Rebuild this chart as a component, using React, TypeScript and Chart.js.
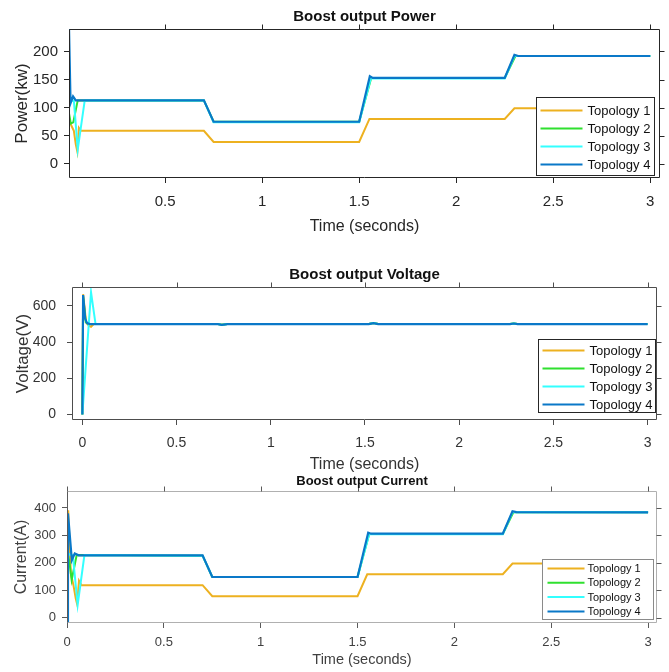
import React, { useEffect, useRef } from "react";
import { Chart, registerables } from "chart.js";

Chart.register(...registerables);

type Pt = [number, number];

// ---------------- DATA ----------------
const seriesLabels = ["Topology 1", "Topology 2", "Topology 3", "Topology 4"];
const seriesColors = ["#EDB120", "#2FE02F", "#33FFFF", "#0A78C8"];

const timeTicks = [0, 0.5, 1, 1.5, 2, 2.5, 3];
const powerTicks = [0, 50, 100, 150, 200];
const voltageTicks = [0, 200, 400, 600];
const currentTicks = [0, 100, 200, 300, 400];

// Power (kW) vs time (s)
const powerTopology1: Pt[] = [
  [0, -30], [0.004, 75], [0.012, 72], [0.03, 59], [0.04, 35], [0.048, 22],
  [0.056, 64], [0.066, 59], [0.7, 59], [0.75, 39], [1.5, 39], [1.553, 80],
  [2.25, 80], [2.3, 99], [3, 99],
];
const powerTopology2: Pt[] = [
  [0, -30], [0.004, 92], [0.014, 72], [0.027, 74], [0.05, 113], [0.7, 113],
  [0.75, 75], [1.5, 75], [1.562, 153], [2.25, 153], [2.305, 192], [3, 192],
];
const powerTopology3: Pt[] = [
  [0, -30], [0.006, 110], [0.03, 113], [0.05, 26], [0.086, 113], [0.7, 113],
  [0.75, 74], [1.5, 74], [1.56, 152], [2.25, 152], [2.3, 192], [3, 192],
];
const powerTopology4: Pt[] = [
  [0, -30], [0.004, 260], [0.013, 108], [0.026, 120], [0.04, 113], [0.7, 113],
  [0.75, 75], [1.5, 75], [1.555, 156], [1.57, 153], [2.25, 153], [2.3, 194],
  [2.32, 192], [3, 192],
];

// Voltage (V) vs time (s)
const voltageTopology1: Pt[] = [
  [0, 0], [0.004, 665], [0.02, 510], [0.035, 490], [0.046, 485], [0.06, 500],
  [0.72, 500], [0.74, 496], [0.77, 500], [1.52, 500], [1.545, 505], [1.57, 500],
  [2.27, 500], [2.29, 503], [2.31, 500], [3, 500],
];
const voltageTopology2: Pt[] = [
  [0, 0], [0.004, 655], [0.018, 510], [0.03, 500], [0.72, 500], [0.74, 496],
  [0.77, 500], [1.52, 500], [1.545, 505], [1.57, 500], [2.27, 500], [2.29, 503],
  [2.31, 500], [3, 500],
];
const voltageTopology3: Pt[] = [
  [0, 0], [0.046, 676], [0.07, 500], [0.72, 500], [0.74, 495], [0.77, 500],
  [1.52, 500], [1.545, 506], [1.57, 500], [2.27, 500], [2.29, 503], [2.31, 500],
  [3, 500],
];
const voltageTopology4: Pt[] = [
  [0, 0], [0.004, 660], [0.015, 530], [0.025, 505], [0.04, 500], [0.72, 500],
  [0.74, 496], [0.77, 500], [1.52, 500], [1.545, 505], [1.57, 500], [2.27, 500],
  [2.29, 503], [2.31, 500], [3, 500],
];

// Current (A) vs time (s)
const currentTopology1: Pt[] = [
  [0, -30], [0.006, 392], [0.02, 160], [0.033, 119], [0.045, 70], [0.052, 50],
  [0.062, 134], [0.075, 118], [0.7, 118], [0.75, 78], [1.5, 78], [1.55, 158],
  [2.25, 158], [2.3, 197], [3, 197],
];
const currentTopology2: Pt[] = [
  [0, -30], [0.004, 230], [0.012, 205], [0.024, 137], [0.05, 228], [0.7, 226],
  [0.75, 148], [1.5, 148], [1.56, 305], [2.25, 305], [2.305, 385], [3, 384],
];
const currentTopology3: Pt[] = [
  [0, -30], [0.002, 240], [0.012, 230], [0.03, 228], [0.055, 46], [0.09, 228],
  [0.7, 226], [0.75, 148], [1.5, 148], [1.56, 304], [2.25, 304], [2.3, 385],
  [3, 384],
];
const currentTopology4: Pt[] = [
  [0, -30], [0.005, 380], [0.025, 210], [0.04, 234], [0.06, 227], [0.7, 227],
  [0.75, 148], [1.5, 148], [1.555, 310], [1.57, 306], [2.25, 306], [2.3, 388],
  [2.32, 385], [3, 384],
];

// ---------------- LAYOUT / STYLE ----------------
const FONT = "'Liberation Sans', Arial, Helvetica, sans-serif";

interface Panel {
  title: string;
  yTitle: string;
  xTitle: string;
  series: Pt[][];
  yTicks: number[];
  xMin: number;
  xMax: number;
  yMin: number;
  yMax: number;
  top: number;
  height: number;
  area: { left: number; top: number; right: number; bottom: number };
  titleY: number;
  titleSize: number;
  tickSize: number;
  labelSize: number;
  yTitleSize: number;
  yTitlePad: number;
  yTickPad: number;
  xTickPad: number;
  xTitlePad: number;
  textColor: string;
  frameColor: string;
  leftFrameColor: string;
  tickColor: string;
  legend: {
    right: number; bottom: number; w: number; h: number;
    row0: number; rowStep: number; l1: number; l2: number; tx: number;
    size: number; border: string;
  };
}

const panels: Panel[] = [
  {
    title: "Boost output Power",
    yTitle: "Power(kw)",
    xTitle: "Time (seconds)",
    series: [powerTopology1, powerTopology2, powerTopology3, powerTopology4],
    yTicks: powerTicks,
    xMin: 0.005, xMax: 3.05, yMin: -25, yMax: 240,
    top: 0, height: 240,
    area: { left: 69, top: 29, right: 660, bottom: 178 },
    titleY: 17, titleSize: 15, tickSize: 15, labelSize: 16, yTitleSize: 17,
    yTitlePad: 12, yTickPad: 6, xTickPad: 10, xTitlePad: 4,
    textColor: "#262626", frameColor: "#262626", leftFrameColor: "#262626", tickColor: "#262626",
    legend: { right: 6, bottom: 3, w: 118, h: 78, row0: 13, rowStep: 18, l1: 4, l2: 46, tx: 51, size: 13, border: "#262626" },
  },
  {
    title: "Boost output Voltage",
    yTitle: "Voltage(V)",
    xTitle: "Time (seconds)",
    series: [voltageTopology1, voltageTopology2, voltageTopology3, voltageTopology4],
    yTicks: voltageTicks,
    xMin: -0.055, xMax: 3.05, yMin: -31, yMax: 705,
    top: 240, height: 235,
    area: { left: 72, top: 47, right: 657, bottom: 180 },
    titleY: 35, titleSize: 15, tickSize: 14, labelSize: 16, yTitleSize: 17,
    yTitlePad: 13, yTickPad: 11, xTickPad: 10, xTitlePad: 1,
    textColor: "#333333", frameColor: "#4d4d4d", leftFrameColor: "#4d4d4d", tickColor: "#4d4d4d",
    legend: { right: 2, bottom: 8, w: 117, h: 73, row0: 11, rowStep: 18, l1: 4, l2: 46, tx: 51, size: 13, border: "#262626" },
  },
  {
    title: "Boost output Current",
    yTitle: "Current(A)",
    xTitle: "Time (seconds)",
    series: [currentTopology1, currentTopology2, currentTopology3, currentTopology4],
    yTicks: currentTicks,
    xMin: 0, xMax: 3.046, yMin: -20, yMax: 462,
    top: 460, height: 212,
    area: { left: 67, top: 31, right: 657, bottom: 163 },
    titleY: 21, titleSize: 13, tickSize: 13, labelSize: 14.5, yTitleSize: 16,
    yTitlePad: 12, yTickPad: 6, xTickPad: 7, xTitlePad: 3,
    textColor: "#404040", frameColor: "#b0b0b0", leftFrameColor: "#5a5a5a", tickColor: "#5a5a5a",
    legend: { right: 4, bottom: 4, w: 111, h: 60, row0: 9, rowStep: 14.3, l1: 5, l2: 42, tx: 45, size: 11, border: "#8a8a8a" },
  },
];

const matlabAxes = {
  id: "matlabAxes",
  afterDraw(chart: any, _args: any, opts: any) {
    const p: Panel = opts.panel;
    const { ctx, chartArea: a } = chart;
    const xs = chart.scales.x;
    const ys = chart.scales.y;
    ctx.save();
    // frame
    ctx.lineWidth = 1;
    const L = Math.round(a.left) + 0.5;
    const T = Math.round(a.top) + 0.5;
    const R = Math.round(a.right) - 0.5;
    const B = Math.round(a.bottom) - 0.5;
    ctx.strokeStyle = p.frameColor;
    ctx.beginPath();
    ctx.moveTo(L, T); ctx.lineTo(R, T); ctx.lineTo(R, B); ctx.lineTo(L, B);
    ctx.stroke();
    ctx.strokeStyle = p.leftFrameColor;
    ctx.beginPath();
    ctx.moveTo(L, T); ctx.lineTo(L, B);
    ctx.stroke();
    // outward ticks on top and right
    ctx.strokeStyle = p.tickColor;
    ctx.beginPath();
    for (const t of xs.ticks) {
      const x = Math.round(xs.getPixelForValue(t.value)) + 0.5;
      ctx.moveTo(x, T); ctx.lineTo(x, T - 5);
    }
    for (const t of ys.ticks) {
      const y = Math.round(ys.getPixelForValue(t.value)) + 0.5;
      ctx.moveTo(R, y); ctx.lineTo(R + 5, y);
    }
    ctx.stroke();
    // title
    ctx.fillStyle = "#111111";
    ctx.font = `bold ${p.titleSize}px ${FONT}`;
    ctx.textAlign = "center";
    ctx.textBaseline = "middle";
    ctx.fillText(p.title, (a.left + a.right) / 2, p.titleY);
    // legend
    const lg = p.legend;
    const bx = Math.round(a.right - lg.right - lg.w) + 0.5;
    const by = Math.round(a.bottom - lg.bottom - lg.h) + 0.5;
    ctx.fillStyle = "#ffffff";
    ctx.fillRect(bx, by, lg.w, lg.h);
    ctx.strokeStyle = lg.border;
    ctx.strokeRect(bx, by, lg.w, lg.h);
    ctx.font = `${lg.size}px ${FONT}`;
    ctx.textAlign = "left";
    ctx.textBaseline = "middle";
    chart.data.datasets.forEach((ds: any, i: number) => {
      const y = by + lg.row0 + i * lg.rowStep;
      ctx.strokeStyle = ds.borderColor;
      ctx.lineWidth = 2;
      ctx.beginPath();
      ctx.moveTo(bx + lg.l1, y);
      ctx.lineTo(bx + lg.l2, y);
      ctx.stroke();
      ctx.fillStyle = "#111111";
      ctx.fillText(ds.label, bx + lg.tx, y + 0.5);
    });
    ctx.restore();
  },
};

function ChartPanel({ p }: { p: Panel }) {
  const ref = useRef<HTMLCanvasElement | null>(null);
  useEffect(() => {
    if (!ref.current) return;
    const width = 669;
    const xTickVals = timeTicks.filter((v) => v >= p.xMin - 1e-9 && v <= p.xMax + 1e-9);
    const chart = new Chart(ref.current, {
      type: "line",
      data: {
        datasets: p.series.map((s, i) => ({
          label: seriesLabels[i],
          data: s.map(([x, y]) => ({ x, y })),
          borderColor: seriesColors[i],
          backgroundColor: seriesColors[i],
          borderWidth: i === 3 ? 2.2 : 2,
          pointRadius: 0,
          tension: 0,
          fill: false,
          order: 4 - i,
        })),
      },
      options: {
        responsive: false,
        animation: false,
        devicePixelRatio: 1,
        layout: {
          padding: { left: 0, top: p.area.top, right: width - p.area.right, bottom: 0 },
        },
        plugins: {
          legend: { display: false },
          title: { display: false },
          tooltip: { enabled: false },
          matlabAxes: { panel: p },
        } as any,
        scales: {
          x: {
            type: "linear",
            min: p.xMin,
            max: p.xMax,
            afterBuildTicks: (scale: any) => {
              scale.ticks = xTickVals.map((v) => ({ value: v }));
            },
            afterFit: (scale: any) => {
              scale.height = p.height - p.area.bottom;
            },
            grid: { display: true, drawOnChartArea: false, drawTicks: true, tickLength: 5, color: p.tickColor },
            border: { display: false },
            ticks: {
              padding: p.xTickPad,
              color: p.textColor,
              font: { family: FONT, size: p.tickSize },
              maxRotation: 0,
              autoSkip: false,
              callback: (v: any) => String(v),
            },
            title: {
              display: true,
              text: p.xTitle,
              color: p.textColor,
              font: { family: FONT, size: p.labelSize },
              padding: { top: 0, bottom: p.xTitlePad },
            },
          },
          y: {
            type: "linear",
            min: p.yMin,
            max: p.yMax,
            afterBuildTicks: (scale: any) => {
              scale.ticks = p.yTicks.map((v) => ({ value: v }));
            },
            afterFit: (scale: any) => {
              scale.width = p.area.left;
            },
            grid: { display: true, drawOnChartArea: false, drawTicks: true, tickLength: 5, color: p.tickColor },
            border: { display: false },
            ticks: {
              padding: p.yTickPad,
              color: p.textColor,
              font: { family: FONT, size: p.tickSize },
              autoSkip: false,
              callback: (v: any) => String(v),
            },
            title: {
              display: true,
              text: p.yTitle,
              color: p.textColor,
              font: { family: FONT, size: p.yTitleSize },
              padding: { top: p.yTitlePad, bottom: 0 },
            },
          },
        },
      } as any,
      plugins: [matlabAxes as any],
    });
    return () => chart.destroy();
  }, [p]);
  return (
    <canvas
      ref={ref}
      width={669}
      height={p.height}
      style={{ position: "absolute", left: 0, top: p.top, width: 669, height: p.height }}
    />
  );
}

export default function App() {
  return (
    <div style={{ position: "absolute", left: 0, top: 0, width: 669, height: 672, background: "#ffffff", overflow: "hidden" }}>
      {panels.map((p, i) => (
        <ChartPanel key={i} p={p} />
      ))}
    </div>
  );
}
